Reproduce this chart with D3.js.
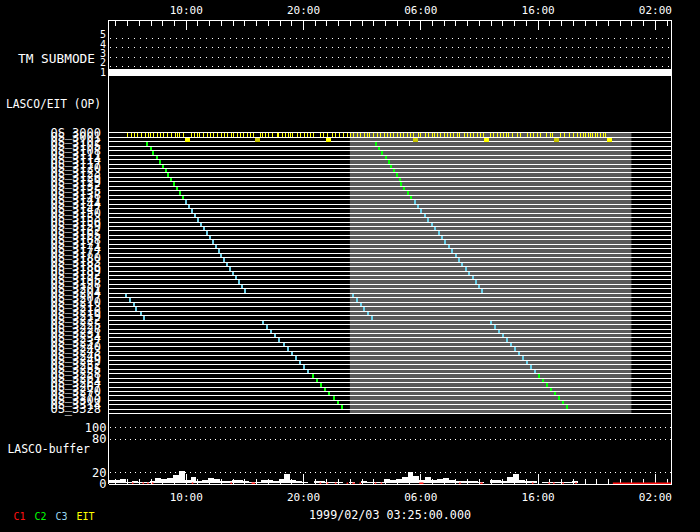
<!DOCTYPE html>
<html><head><meta charset="utf-8">
<script src="https://cdn.jsdelivr.net/npm/d3@7"></script>
<style>
body{margin:0;background:#000}
svg{display:block;background:#000}
text{font-family:"DejaVu Sans Mono",monospace;fill:#fff}
</style>
</head><body><svg id="c" width="700" height="532"></svg>
<script>
// ---------------- data ----------------
const startLabel = "1999/02/03 03:25:00.000";
const spanHours = 48;
const axisTickLabels = ["10:00","20:00","06:00","16:00","02:00"];
const submodeLevels = [1,2,3,4,5];
const submodeDotted = [2,3,4,5];
const submodeValue = 1;
const osLabels = ["OS_3000","OS_3001","OS_3102","OS_3105","OS_3108","OS_3111","OS_3114","OS_3117","OS_3120","OS_3123",
"OS_3126","OS_3129","OS_3132","OS_3135","OS_3138","OS_3141","OS_3144","OS_3147","OS_3150","OS_3153",
"OS_3156","OS_3159","OS_3162","OS_3165","OS_3168","OS_3171","OS_3174","OS_3177","OS_3180","OS_3183",
"OS_3186","OS_3189","OS_3192","OS_3195","OS_3198","OS_3201","OS_3204","OS_3207","OS_3210","OS_3213",
"OS_3216","OS_3219","OS_3222","OS_3225","OS_3228","OS_3231","OS_3234","OS_3237","OS_3240","OS_3243",
"OS_3246","OS_3249","OS_3252","OS_3255","OS_3258","OS_3261","OS_3264","OS_3267","OS_3270","OS_3273",
"OS_3300","OS_3314","OS_3328"];
const osInstrument = ["EIT","EIT",
"C2","C2","C2","C2","C2","C2","C2","C2","C2","C2","C2","C2","C2",
"C3","C3","C3","C3","C3","C3","C3","C3","C3","C3","C3","C3","C3","C3","C3","C3","C3","C3","C3","C3","C3",
"C3","C3","C3","C3","C3","C3",
"C3","C3","C3","C3","C3","C3","C3","C3","C3","C3","C3","C3",
"C2","C2","C2","C2","C2","C2","C2","C2","C2"];
// start hour (after 03:25) of each OS, rows 2..62, first and second run
const run1Start = [3.21,3.50,3.75,4.01,4.27,4.52,4.78,5.00,5.26,5.50,5.75,6.00,6.25,
 6.51,6.77,7.02,7.28,7.53,7.79,8.05,8.30,8.56,8.81,9.07,9.33,9.54,9.80,10.05,10.31,10.56,10.82,11.08,11.29,11.54,
 1.37,1.71,2.05,2.30,2.65,2.90,
 13.08,13.42,13.76,14.15,14.49,14.87,15.21,15.55,15.90,16.28,16.62,16.96,17.35,17.69,18.03,18.37,18.75,19.10,19.44,19.82,20.08];
const run2Start = [22.70,22.98,23.26,23.55,23.81,24.03,24.23,24.51,24.74,24.88,25.15,25.44,25.73,
 26.02,26.31,26.60,26.89,27.18,27.47,27.76,28.05,28.34,28.63,28.92,29.21,29.50,29.79,30.08,30.37,30.66,30.95,31.24,31.51,31.77,
 20.80,21.14,21.48,21.74,22.08,22.34,
 32.53,32.88,33.22,33.56,33.90,34.24,34.58,34.92,35.26,35.61,35.95,36.29,36.63,36.97,37.31,37.65,38.00,38.34,38.68,39.02,39.61];
const osDuration = 0.21;
const eitTicks = [1.59,1.90,2.19,2.44,2.81,3.10,3.33,3.52,3.81,4.10,4.38,4.66,4.95,5.29,5.66,5.80,6.03,6.31,7.00,7.28,7.51,7.73,8.07,8.41,8.64,8.93,9.27,9.56,9.84,10.12,10.44,10.63,10.97,11.20,11.48,11.77,12.06,12.34,12.91,13.05,13.34,13.62,13.91,14.33,14.47,14.76,15.04,15.32,15.47,15.61,16.04,16.32,16.66,16.89,17.18,17.46,18.03,18.31,18.60,19.03,19.31,19.68,20.02,20.31,20.59,20.87,21.16,
21.44,21.78,22.01,22.24,22.58,22.87,23.15,23.52,23.72,24.00,24.28,24.57,24.86,25.14,25.43,25.71,25.94,26.42,26.56,26.99,27.27,27.56,27.78,27.99,28.27,28.61,28.84,29.12,29.40,29.69,29.89,30.32,30.55,30.83,31.11,31.40,31.68,31.91,32.53,32.82,33.11,33.39,33.67,33.87,34.10,34.39,34.81,35.09,35.67,35.95,36.23,36.52,36.80,37.31,37.60,37.85,38.51,38.85,39.22,39.64,39.93,40.21,40.44,40.64,40.84,41.07,41.26,41.49,41.69,41.92,42.12,42.35];
const eitSquares = [6.51,12.48,18.54,25.96,32.02,37.99,42.52];
const eitSquareKind = ["full","half","full","half","full","half","full"];
const eitSquareDuration = 0.42;
const grayBand = [20.58, 44.58];
const bufferTicks = [0,20,80,100];
const bufferDotted = [20,80,100];
const bufferStep = 0.5;
const bufferValues = [6.7,6.7,8,2.4,4.8,2.4,2,4,9,7,
 9,15,22,6,12,4.8,6,9.7,8.5,3.6,
 4.8,5.5,6,4.8,2.4,1.8,6,6,4.8,8,
 17,6,3.6,3,1.2,3.6,3.6,2.4,1.8,1.8,
 1.2,2.4,1.2,3.6,2.4,3,2.4,8.5,6,7.3,
 12,21,13.3,6,11,6,8.5,9.7,6,3.6,
 4.8,4.8,4.2,2.4,1.2,6.7,6,4.8,11,17,
 6,4.2,3.6,1.2,2.4,2.4,1.8,2.4,3,3.6,
 1.2,1.2,1.2,1.2,1.2,1.2,1.2,
 0,0,0,0,0,0,0,0,0];
const c1Marks = [[2.0,2.1],[2.9,3.0],[3.3,3.4],[3.7,3.8],[7.1,7.2],[10.4,10.5],[12.2,12.5],[18.0,18.1],[18.6,18.7],[19.3,19.4],[20.3,20.4],[20.8,21.0],[21.4,21.5],[22.7,22.8],[23.2,23.3],[26.5,26.85],[29.9,30.0],[31.7,31.9],[36.1,36.2],[37.5,37.6],[37.9,38.0],[38.7,38.8],[39.8,39.9],[43.0,48.0]];
const legendItems = ["C1","C2","C3","EIT"];

// ---------------- styles ----------------
const instColor = {C1:"#ff1010", C2:"#00ff00", C3:"#68cfe8", EIT:"#ffff00"};
const legendColor = {C1:"#ff1010", C2:"#00ff00", C3:"#9ad8f0", EIT:"#ffff00"};
const squareColor = {full:"#ffff00", half:"#c8c400"};

// ---------------- scales ----------------
const svg = d3.select("#c");
const t0 = new Date(1999,1,3,3,25);
const hr = h => new Date(t0.getTime() + h*3600e3);
const t1 = hr(spanHours);
const x = d3.scaleTime().domain([t0,t1]).range([108.5,671.5]);
const ySub = d3.scaleLinear().domain([1,5]).range([75.4,37.7]);
const yRow = d3.scaleBand().domain(d3.range(osLabels.length)).range([132.3,413.3]);
const yBuf = d3.scaleLinear().domain([0,100]).range([483.3,427.3]);
const rt = i => Math.round(yRow(i));
const rb = i => Math.round(yRow(i)+yRow.bandwidth());

// gray band (second day)
svg.append("rect").attr("x",x(hr(grayBand[0]))).attr("width",x(hr(grayBand[1]))-x(hr(grayBand[0])))
  .attr("y",rt(0)).attr("height",rb(osLabels.length-1)-rt(0)+1).attr("fill","#5a5a5a");

// row lines
const lineYs = d3.range(osLabels.length).map(rt).concat([rb(osLabels.length-1)]);
svg.append("g").selectAll("line").data(lineYs).join("line")
  .attr("x1",108.5).attr("x2",671.5).attr("y1",d=>d+0.5).attr("y2",d=>d+0.5)
  .attr("stroke","#fff").attr("stroke-width",1).attr("shape-rendering","crispEdges");

// EIT ticks (row 0)
svg.append("g").selectAll("rect").data(eitTicks).join("rect")
  .attr("x",d=>Math.round(x(hr(d)))).attr("width",1)
  .attr("y",rt(0)+1).attr("height",rt(1)-rt(0)-1)
  .attr("fill",instColor.EIT).attr("shape-rendering","crispEdges");
// EIT squares (row 1)
svg.append("g").selectAll("rect").data(eitSquares).join("rect")
  .attr("x",d=>Math.round(x(hr(d)))).attr("width",d=>Math.max(2,Math.round(x(hr(d+eitSquareDuration))-x(hr(d)))))
  .attr("y",rt(1)+1).attr("height",rt(2)-rt(1))
  .attr("fill",(d,i)=>squareColor[eitSquareKind[i]]).attr("shape-rendering","crispEdges");

// OS observations
const obs = [];
[run1Start, run2Start].forEach(run => run.forEach((h,k) => obs.push({row:k+2, h})));
svg.append("g").selectAll("rect").data(obs).join("rect")
  .attr("x",d=>Math.round(x(hr(d.h))))
  .attr("width",d=>Math.max(2,Math.round(x(hr(d.h+osDuration))-x(hr(d.h)))))
  .attr("y",d=>rt(d.row)+1).attr("height",d=>rt(d.row+1)-rt(d.row)-1)
  .attr("fill",d=>instColor[osInstrument[d.row]]).attr("shape-rendering","crispEdges");

// TM submode
svg.append("g").selectAll("line").data(submodeDotted).join("line")
  .attr("x1",110).attr("x2",671).attr("y1",d=>Math.round(ySub(d))+0.5).attr("y2",d=>Math.round(ySub(d))+0.5)
  .attr("stroke","#fff").attr("stroke-dasharray","1,5");
svg.append("rect").attr("x",x(t0)).attr("width",x(t1)-x(t0))
  .attr("y",Math.round(ySub(submodeValue))-6).attr("height",7).attr("fill","#fff");
svg.append("g").selectAll("text").data(submodeLevels).join("text")
  .attr("x",106).attr("y",d=>ySub(d)+0.5).attr("text-anchor","end")
  .style("font-size","10px").text(d=>d);

// buffer
svg.append("g").selectAll("line").data(bufferDotted).join("line")
  .attr("x1",110).attr("x2",671).attr("y1",d=>Math.round(yBuf(d))+0.5).attr("y2",d=>Math.round(yBuf(d))+0.5)
  .attr("stroke","#fff").attr("stroke-dasharray","1,4");
const bufData = bufferValues.map((v,i)=>({h:i*bufferStep,v}));
bufData.push({h:spanHours, v:bufferValues[bufferValues.length-1]});
svg.append("path").datum(bufData)
  .attr("d",d3.area().x(d=>x(hr(d.h))).y0(yBuf(0)).y1(d=>yBuf(d.v)).curve(d3.curveStepAfter))
  .attr("fill","#fff").attr("shape-rendering","crispEdges");
svg.append("g").selectAll("text").data(bufferTicks).join("text")
  .attr("x",106.5).attr("y",d=>yBuf(d)+4.5).attr("text-anchor","end")
  .style("font-size","12px").text(d=>d);

// axes
const day0 = new Date(1999,1,3);
const hours = d3.timeHour.range(hr(0.01), t1);
const majors = hours.filter(d => (d3.timeHour.count(day0,d) - 10) % 10 === 0);
const styleAxis = g => {
  g.selectAll("path,line").attr("stroke","#fff").attr("shape-rendering","crispEdges");
  g.selectAll("text").attr("fill","#fff").style("font-family","DejaVu Sans Mono").style("font-size","11px");
};
svg.append("g").attr("transform","translate(0,19.5)")
  .call(d3.axisTop(x).tickValues(hours).tickSizeInner(-6).tickSizeOuter(0).tickFormat(""))
  .call(styleAxis);
svg.append("g").attr("transform","translate(0,19.5)")
  .call(d3.axisTop(x).tickValues(majors).tickSizeInner(-10).tickSizeOuter(0).tickPadding(5.5)
    .tickFormat((d,i)=>axisTickLabels[i]))
  .call(styleAxis);
svg.append("g").attr("transform","translate(0,483.5)")
  .call(d3.axisBottom(x).tickValues(hours).tickSizeInner(-5).tickSizeOuter(0).tickFormat(""))
  .call(styleAxis);
svg.append("g").attr("transform","translate(0,483.5)")
  .call(d3.axisBottom(x).tickValues(majors).tickSizeInner(-10).tickSizeOuter(0).tickPadding(10)
    .tickFormat((d,i)=>axisTickLabels[i]))
  .call(styleAxis);

// C1 marks along buffer baseline
svg.append("g").selectAll("rect").data(c1Marks).join("rect")
  .attr("x",d=>x(hr(d[0]))).attr("width",d=>Math.max(1.5,x(hr(Math.min(d[1],spanHours)))-x(hr(d[0]))))
  .attr("y",482.5).attr("height",1.5).attr("fill",instColor.C1);

// frame verticals
[108.5,671.5].forEach(xx => svg.append("line").attr("x1",xx).attr("x2",xx).attr("y1",19.5).attr("y2",484)
  .attr("stroke","#fff").attr("shape-rendering","crispEdges"));

// OS labels
svg.append("g").selectAll("text").data(osLabels).join("text")
  .attr("x",101).attr("y",(d,i)=>rb(i)).attr("text-anchor","end")
  .style("font-size","12px").text(d=>d);

// panel titles
const title = (t,xx,yy,len) => svg.append("text").attr("x",xx).attr("y",yy).style("font-size","12px")
  .attr("textLength",len).attr("lengthAdjust","spacingAndGlyphs").text(t);
title("TM SUBMODE",18,62.5,77);
title("LASCO/EIT (OP)",6,107.5,95);
title("LASCO-buffer",7.5,453,82.5);
svg.append("text").attr("x",390).attr("y",519).attr("text-anchor","middle").style("font-size","12px")
  .attr("textLength",162).attr("lengthAdjust","spacingAndGlyphs").text(startLabel);

// legend
const legX = [13.5,34.5,55.5,76.5];
svg.append("g").selectAll("text").data(legendItems).join("text")
  .attr("x",(d,i)=>legX[i]).attr("y",520).style("font-size","10px")
  .style("fill",d=>legendColor[d]).text(d=>d);
</script>
</body></html>
